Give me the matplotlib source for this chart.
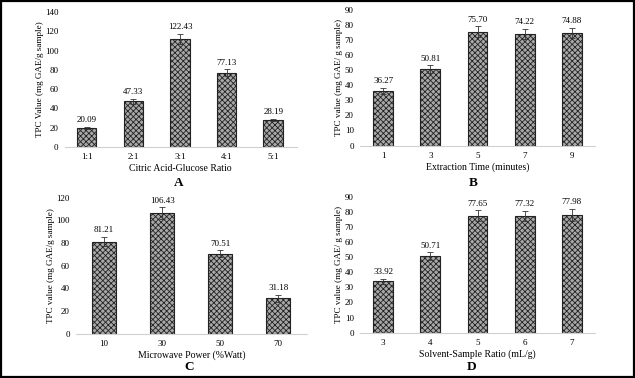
import matplotlib.pyplot as plt
import numpy as np
from matplotlib.patches import Rectangle

plt.rcParams['font.family'] = ['Liberation Serif', 'DejaVu Serif']
plt.rcParams['hatch.color'] = '#1a1a1a'
plt.rcParams['hatch.linewidth'] = 0.6

# panel A
ratio_cats = ['1:1', '2:1', '3:1', '4:1', '5:1']
ratio_vals = [20.09, 47.33, 112.4, 77.13, 28.19]   # bar heights as drawn
ratio_lbls = ['20.09', '47.33', '122.43', '77.13', '28.19']
ratio_err = [1.0, 2.5, 5.0, 3.5, 1.0]

# panel B
time_cats = ['1', '3', '5', '7', '9']
time_vals = [36.27, 50.81, 75.70, 74.22, 74.88]
time_lbls = ['36.27', '50.81', '75.70', '74.22', '74.88']
time_err = [2.0, 2.5, 3.5, 3.5, 3.5]

# panel C
power_cats = ['10', '30', '50', '70']
power_vals = [81.21, 106.43, 70.51, 31.18]
power_lbls = ['81.21', '106.43', '70.51', '31.18']
power_err = [4.0, 5.0, 3.0, 3.0]

# panel D
solv_cats = ['3', '4', '5', '6', '7']
solv_vals = [33.92, 50.71, 77.65, 77.32, 77.98]
solv_lbls = ['33.92', '50.71', '77.65', '77.32', '77.98']
solv_err = [1.5, 2.5, 3.5, 3.5, 4.0]

fig = plt.figure(figsize=(6.35, 3.78), dpi=100)
fig.patches.append(Rectangle((0.002, 0.003), 0.996, 0.994, transform=fig.transFigure,
                             fill=False, edgecolor='black', linewidth=1.6))


def panel(rect, cats, vals, lbls, err, ymax, ystep, ylab, xlab, letter, lpos, xlim):
    ax = fig.add_axes(rect)
    x = np.arange(len(cats))
    ax.bar(x, vals, 0.42, color='#a8a8a8', edgecolor='#222222', linewidth=0.8,
           hatch='xxxxxx', zorder=2)
    ax.errorbar(x, vals, yerr=err, fmt='none', ecolor='#333333', elinewidth=0.6,
                capsize=2, capthick=0.6, zorder=3)
    for xi, v, e, t in zip(x, vals, err, lbls):
        ax.annotate(t, (xi, v + e), xytext=(0, 2), textcoords='offset points',
                    ha='center', va='bottom', fontsize=6.5)
    ax.set_ylim(0, ymax)
    ax.set_yticks(np.arange(0, ymax + 1, ystep))
    ax.set_xlim(*xlim)
    ax.set_xticks(x, cats)
    ax.tick_params(length=0, labelsize=6.5, pad=4.5)
    for s in ('top', 'right', 'left'):
        ax.spines[s].set_visible(False)
    ax.spines['bottom'].set_color('#d0d0d0')
    ax.spines['bottom'].set_linewidth(0.8)
    ax.set_ylabel(ylab, fontsize=6.6, labelpad=1)
    ax.set_xlabel(xlab, fontsize=7, labelpad=2)
    fig.text(lpos[0] / 635, 1 - lpos[1] / 378, letter, ha='center', va='center',
             fontsize=9.5, fontweight='bold')
    return ax


panel([0.102, 0.611, 0.365, 0.357], ratio_cats, ratio_vals, ratio_lbls, ratio_err,
      140, 20, 'TPC Value (mg GAE/g sample)', 'Citric Acid-Glucose Ratio', 'A', (179, 183),
      (-0.47, 4.5))
panel([0.567, 0.615, 0.370, 0.358], time_cats, time_vals, time_lbls, time_err,
      90, 10, 'TPC value (mg GAE/ g sample)', 'Extraction Time (minutes)', 'B', (473, 183),
      (-0.49, 4.49))
panel([0.120, 0.117, 0.364, 0.360], power_cats, power_vals, power_lbls, power_err,
      120, 20, 'TPC value (mg GAE/g sample)', 'Microwave Power (%Watt)', 'C', (189, 367),
      (-0.48, 3.5))
panel([0.567, 0.120, 0.370, 0.359], solv_cats, solv_vals, solv_lbls, solv_err,
      90, 10, 'TPC value (mg GAE/ g sample)', 'Solvent-Sample Ratio (mL/g)', 'D', (472, 367),
      (-0.49, 4.49))

fig.savefig('out.png', dpi=100)
